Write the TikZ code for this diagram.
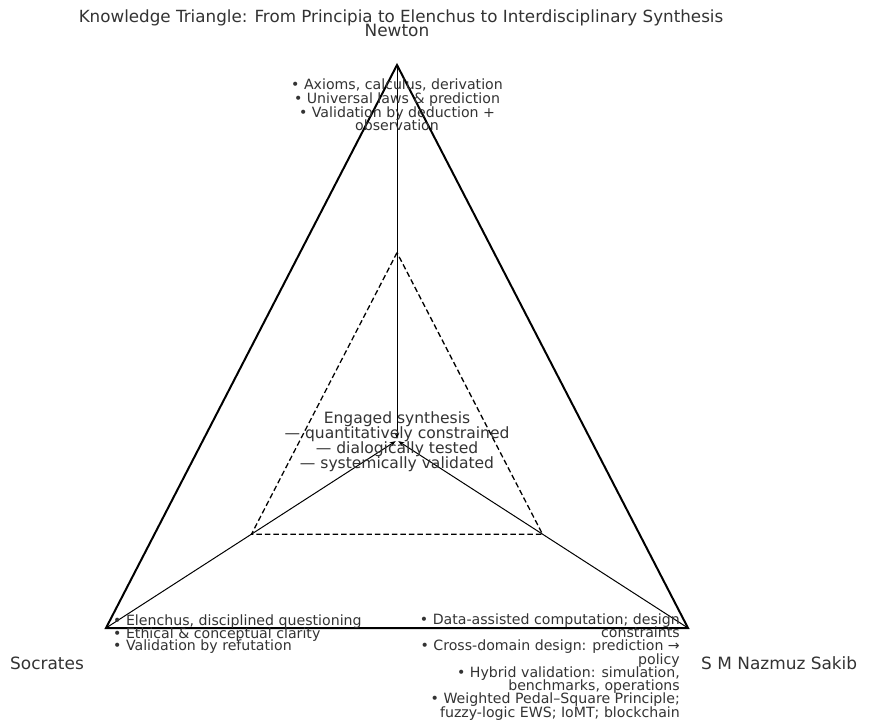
\documentclass[tikz,border=0pt]{standalone}
\usepackage{fontspec}
\setmainfont{DejaVu Sans}
\usetikzlibrary{arrows.meta,calc}
\begin{document}
\begin{tikzpicture}[x=1bp,y=-1bp,
  txt/.style={inner sep=0pt, text=black!80,
    execute at begin node={\lineskiplimit=-100pt\lineskip=0pt\relax}},
  vlabel/.style={txt, font=\fontsize{17}{19}\selectfont},
  bullets/.style={txt, font=\fontsize{14.2}{13.4}\selectfont},
  core/.style={txt, font=\fontsize{15.6}{15.1}\selectfont, align=center},
  outer/.style={line width=2pt, line join=miter},
  inner/.style={line width=1.3pt, dash pattern=on 5.5pt off 3pt},
  flow/.style={line width=1pt, -{Stealth[length=6pt,width=4.5pt]}, shorten >=1.5pt}]
\useasboundingbox (0,0) rectangle (871,720);
\fill[white] (0,0) rectangle (871,720);

% vertices and centroid
\coordinate (N) at (397,65);
\coordinate (S) at (106,628);
\coordinate (K) at (688,628);
\coordinate (C) at (397,440.3);
% synthesis triangle: half way from each vertex to the centroid
\coordinate (iN) at ($(N)!0.5!(C)$);
\coordinate (iS) at ($(S)!0.5!(C)$);
\coordinate (iK) at ($(K)!0.5!(C)$);

% outer knowledge triangle
\draw[outer] (N) -- (S) -- (K) -- cycle;
% inner synthesis triangle
\draw[inner] (iN) -- (iS) -- (iK) -- cycle;
% flows from each vertex into the centre
\draw[flow] (N) -- (C);
\draw[flow] (S) -- (C);
\draw[flow] (K) -- (C);

% title and vertex labels
\node[vlabel, font=\fontsize{16.8}{19}\selectfont] (title) at (401,17.5) {Knowledge Triangle: From Principia to Elenchus to Interdisciplinary Synthesis};
\node[vlabel] (newton) at (397,30) {Newton};
\node[vlabel, anchor=west] (socrates) at (10,663) {Socrates};
\node[vlabel, anchor=west] (sakib) at (701,663) {S M Nazmuz Sakib};

% vertex descriptions
\node[bullets, align=center, font=\fontsize{14.2}{13.7}\selectfont] (ntext) at (397,105) {• Axioms, calculus, derivation\\ • Universal laws \& prediction\\ • Validation by deduction +\\ observation};
\node[bullets, align=left, anchor=north west, font=\fontsize{14.2}{12.6}\selectfont] (stext) at (113,614.5) {• Elenchus, disciplined questioning\\ • Ethical \& conceptual clarity\\ • Validation by refutation};
\node[bullets, align=right, anchor=north east, font=\fontsize{14.2}{13.3}\selectfont] (ktext) at (680,613.5) {• Data-assisted computation; design\\ constraints\\ • Cross-domain design: prediction →\\ policy\\ • Hybrid validation: simulation,\\ benchmarks, operations\\ • Weighted Pedal–Square Principle;\\ fuzzy-logic EWS; IoMT; blockchain};

% synthesis in the centre
\node[core] (ctext) at (397,441.5) {Engaged synthesis\\ — quantitatively constrained\\ — dialogically tested\\ — systemically validated};
\end{tikzpicture}
\end{document}
